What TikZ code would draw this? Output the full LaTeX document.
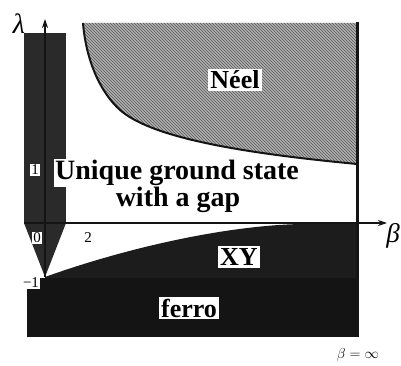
\documentclass[tikz,border=0pt]{standalone}
\usepackage{fontspec}
\setmainfont{Liberation Serif}[BoldFont={Liberation Serif Bold},ItalicFont={Liberation Serif Italic}]
\usetikzlibrary{patterns,arrows.meta}
\definecolor{ink}{HTML}{141414}
\definecolor{stripc}{HTML}{2A2A2A}
\definecolor{xyc}{HTML}{1C1C1C}
\definecolor{hatchc}{HTML}{B0B0B0}
\begin{document}
\begin{tikzpicture}[x=1pt,y=-1pt,
  big/.style={font=\fontsize{26}{28}\selectfont\bfseries},
  bigger/.style={font=\fontsize{28}{30}\selectfont\bfseries},
  tag/.style={big, fill=white, inner sep=2pt},
  num/.style={font=\fontsize{15}{16}\selectfont, fill=white, inner sep=1pt},
  axis/.style={line width=1.3pt, ink, -{Stealth[length=9pt,width=6pt]}}]
\useasboundingbox (0,0) rectangle (401,366);
% Neel region
\fill[hatchc] (83,23) -- (357,23) -- (357,164)
  .. controls (230,152) and (150,136) .. (120,110)
  .. controls (100,92) and (86,60) .. (83,23) -- cycle;
\fill[pattern=north west lines, pattern color=gray!70!black] (83,23) -- (357,23) -- (357,164)
  .. controls (230,152) and (150,136) .. (120,110)
  .. controls (100,92) and (86,60) .. (83,23) -- cycle;
\draw[line width=2pt, ink] (357,164)
  .. controls (230,152) and (150,136) .. (120,110)
  .. controls (100,92) and (86,60) .. (83,23);
% left strip
\fill[stripc] (24,33) rectangle (66,223);
\fill[stripc] (24,223) -- (66,223) -- (45,277) -- cycle;
% XY region
\fill[xyc] (45,277) .. controls (120,250) and (220,226) .. (300,224) -- (357,223) -- (357,278) -- (45,278) -- cycle;
% ferro
\fill[ink] (27,278) rectangle (357,337);
% right border line
\draw[line width=3pt, ink] (357,22) -- (357,337);
% axes
\coordinate (o) at (45,223);
\coordinate (ltop) at (45,19);
\coordinate (lbot) at (45,277);
\coordinate (bleft) at (24,223);
\coordinate (bright) at (387,223);
\draw[axis] (lbot) -- (ltop);
\draw[axis] (bleft) -- (bright);
% labels
\node[font=\fontsize{28}{28}\selectfont\itshape] (lam) at (19,24) {λ};
\node[font=\fontsize{27}{28}\selectfont\itshape] (beta) at (393,236) {β};
\node[tag] (neel) at (235,80) {Néel};
\node[bigger, fill=white, inner sep=1pt] (u1) at (177,173) {Unique ground state};
\node[bigger, inner sep=1pt] (u2) at (178,200) {with a gap};
\node[tag] (xy) at (239,257) {XY};
\node[tag] (ferro) at (189,308) {ferro};
\node[num] (one) at (35,170) {1};
\node[num] (zero) at (37,238) {0};
\node[font=\fontsize{15}{16}\selectfont] (two) at (88,238) {2};
\node[num] (mone) at (31,283) {−1};
\node[font=\fontsize{14}{16}\selectfont] (binf) at (358,355) {$\beta=\infty$};
\end{tikzpicture}
\end{document}
